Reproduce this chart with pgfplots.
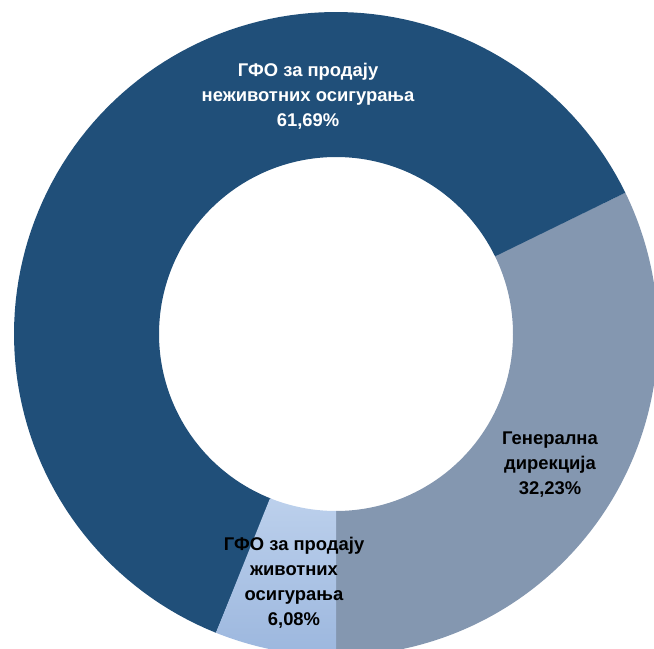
\documentclass[border=0pt]{standalone}
\usepackage{pgfplots}
\pgfplotsset{compat=1.18}
\usepackage{pgfplotstable}
\usepackage{fontspec}
\setmainfont{Liberation Sans}
\definecolor{cDark}{HTML}{204F79}
\definecolor{cGrey}{HTML}{8497B0}
\definecolor{cLightTop}{HTML}{BCD0EC}
\definecolor{cLightBot}{HTML}{9CB7DE}

\pgfplotstableread{
name value
gen 32.23
nezh 61.69
zhiv 6.08
}\slices

\begin{document}
\begin{tikzpicture}
\pgfplotstablegetelem{0}{value}\of\slices \let\vA\pgfplotsretval
\pgfplotstablegetelem{1}{value}\of\slices \let\vB\pgfplotsretval
\pgfplotstablegetelem{2}{value}\of\slices \let\vC\pgfplotsretval
\pgfmathsetmacro{\aA}{-90}
\pgfmathsetmacro{\bA}{\aA+3.6*\vA}
\pgfmathsetmacro{\bB}{\bA+3.6*\vB}
\pgfmathsetmacro{\bC}{\bB+3.6*\vC}
\def\cx{336}\def\cy{315}\def\RR{322}\def\rr{177}
\begin{axis}[
  name=pie,
  scale only axis, width=6.54in, height=6.49in,
  xmin=0, xmax=654, ymin=0, ymax=649,
  hide axis, clip=true,
  variable=\t, domain=0:2, samples=241,
  every axis plot/.append style={draw=none},
]
% slice: t in [0,1] outer arc a->b, t in [1.01,2] inner arc b->a
\newcommand{\slice}[3]{%
\addplot[#3] (
 {\cx + ((\t<1.005)*\RR + (\t>=1.005)*\rr)*cos((\t<1.005)*(#1+(#2-#1)*min(\t,1)) + (\t>=1.005)*(#2-(#2-#1)*(\t-1.01)/0.99))},
 {\cy + ((\t<1.005)*\RR + (\t>=1.005)*\rr)*sin((\t<1.005)*(#1+(#2-#1)*min(\t,1)) + (\t>=1.005)*(#2-(#2-#1)*(\t-1.01)/0.99))}
) -- cycle;}
\slice{\aA}{\bA}{fill=cGrey}
\slice{\bA}{\bB}{fill=cDark}
\slice{\bB}{\bC}{top color=cLightTop, bottom color=cLightBot}

\node[font=\bfseries\fontsize{13.3}{18}\selectfont, text=white, align=center]
  at (axis cs:308,553) {ГФО за продају\\неживотних осигурања\\61,69\%};
\node[font=\bfseries\fontsize{13.3}{18}\selectfont, text=black, align=center]
  at (axis cs:550,184) {Генерална\\дирекција\\32,23\%};
\node[font=\bfseries\fontsize{13.3}{18}\selectfont, text=black, align=center]
  at (axis cs:294,66) {ГФО за продају\\животних\\осигурања\\6,08\%};
\end{axis}
\pgfresetboundingbox
\path (pie.south west) rectangle (pie.north east);
\end{tikzpicture}
\end{document}
